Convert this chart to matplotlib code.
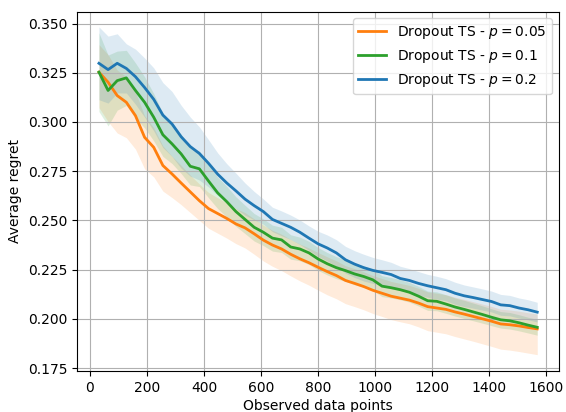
import matplotlib
matplotlib.use("Agg")
import matplotlib.pyplot as plt
import numpy as np

# observed data points (x axis)
observed = [32, 64, 96, 128, 160, 192, 224, 256, 288, 320,
            352, 384, 416, 448, 480, 512, 544, 576, 608, 640,
            672, 704, 736, 768, 800, 832, 864, 896, 928, 960,
            992, 1024, 1056, 1088, 1120, 1152, 1184, 1216, 1248, 1280,
            1312, 1344, 1376, 1408, 1440, 1472, 1504, 1536, 1568]

# mean regret, p = 0.05
regret_p005 = [0.3253, 0.3202, 0.3134, 0.3100, 0.3032, 0.2922, 0.2871, 0.2779, 0.2736, 0.2690,
               0.2645, 0.2600, 0.2560, 0.2535, 0.2510, 0.2482, 0.2462, 0.2432, 0.2400, 0.2375,
               0.2355, 0.2328, 0.2305, 0.2285, 0.2262, 0.2240, 0.2220, 0.2195, 0.2180, 0.2164,
               0.2145, 0.2130, 0.2115, 0.2105, 0.2095, 0.2080, 0.2062, 0.2055, 0.2048, 0.2035,
               0.2024, 0.2012, 0.2000, 0.1988, 0.1974, 0.1970, 0.1964, 0.1956, 0.1949]
# band below / above mean, p = 0.05
band_lo_p005 = [0.018, 0.020, 0.019, 0.018, 0.017, 0.016, 0.015, 0.013, 0.012, 0.011,
                0.0105, 0.010, 0.010, 0.010, 0.010, 0.010, 0.0102, 0.0104, 0.0106, 0.0108,
                0.0110, 0.0110, 0.0112, 0.0114, 0.0116, 0.0118, 0.0118, 0.0118, 0.0118, 0.0118,
                0.0118, 0.0118, 0.0119, 0.0120, 0.0120, 0.0121, 0.0122, 0.0123, 0.0124, 0.0125,
                0.0126, 0.0126, 0.0127, 0.0128, 0.0128, 0.0129, 0.0130, 0.0130, 0.0131]
band_hi_p005 = [0.014, 0.014, 0.013, 0.013, 0.012, 0.011, 0.010, 0.010, 0.009, 0.009,
                0.0085, 0.0085, 0.0082, 0.0080, 0.0080, 0.0078, 0.0078, 0.0076, 0.0076, 0.0075,
                0.0075, 0.0075, 0.0075, 0.0075, 0.0075, 0.0075, 0.0075, 0.0075, 0.0075, 0.0075,
                0.0075, 0.0075, 0.0075, 0.0075, 0.0075, 0.0075, 0.0075, 0.0075, 0.0075, 0.0075,
                0.0075, 0.0075, 0.0075, 0.0075, 0.0075, 0.0075, 0.0075, 0.0075, 0.0075]

# mean regret, p = 0.1
regret_p01 = [0.3253, 0.3160, 0.3210, 0.3224, 0.3160, 0.3100, 0.3024, 0.2935, 0.2889, 0.2838,
              0.2775, 0.2762, 0.2700, 0.2640, 0.2595, 0.2545, 0.2505, 0.2465, 0.2440, 0.2410,
              0.2401, 0.2365, 0.2355, 0.2335, 0.2304, 0.2280, 0.2260, 0.2245, 0.2228, 0.2215,
              0.2198, 0.2166, 0.2158, 0.2148, 0.2135, 0.2115, 0.2092, 0.2089, 0.2075, 0.2060,
              0.2048, 0.2035, 0.2022, 0.2008, 0.1995, 0.1990, 0.1980, 0.1968, 0.1957]
band_p01 = [0.020, 0.018, 0.015, 0.014, 0.014, 0.013, 0.012, 0.011, 0.010, 0.010,
            0.0095, 0.0090, 0.0085, 0.0080, 0.0078, 0.0075, 0.0072, 0.0070, 0.0068, 0.0066,
            0.0064, 0.0062, 0.0060, 0.0059, 0.0058, 0.0057, 0.0056, 0.0055, 0.0055, 0.0054,
            0.0054, 0.0053, 0.0052, 0.0051, 0.0050, 0.0050, 0.0049, 0.0048, 0.0047, 0.0046,
            0.0046, 0.0045, 0.0044, 0.0043, 0.0042, 0.0042, 0.0041, 0.0040, 0.0040]

# mean regret, p = 0.2
regret_p02 = [0.3298, 0.3266, 0.3298, 0.3272, 0.3230, 0.3175, 0.3115, 0.3035, 0.2990, 0.2925,
              0.2875, 0.2840, 0.2790, 0.2735, 0.2690, 0.2650, 0.2608, 0.2575, 0.2545, 0.2505,
              0.2485, 0.2465, 0.2440, 0.2410, 0.2381, 0.2360, 0.2335, 0.2300, 0.2278, 0.2260,
              0.2246, 0.2236, 0.2225, 0.2205, 0.2195, 0.2180, 0.2168, 0.2158, 0.2148, 0.2130,
              0.2117, 0.2108, 0.2098, 0.2088, 0.2071, 0.2067, 0.2055, 0.2046, 0.2034]
band_p02 = [0.0185, 0.0170, 0.0150, 0.0125, 0.0140, 0.0150, 0.0160, 0.0165, 0.0165, 0.0160,
            0.0150, 0.0135, 0.0120, 0.0108, 0.0098, 0.0090, 0.0082, 0.0072, 0.0064, 0.0062,
            0.0063, 0.0062, 0.0062, 0.0062, 0.0064, 0.0066, 0.0067, 0.0068, 0.0068, 0.0068,
            0.0066, 0.0064, 0.0062, 0.0062, 0.0060, 0.0060, 0.0058, 0.0058, 0.0056, 0.0056,
            0.0055, 0.0054, 0.0054, 0.0053, 0.0053, 0.0052, 0.0051, 0.0051, 0.0050]

labels = ['Dropout TS - $p = 0.05$', 'Dropout TS - $p = 0.1$', 'Dropout TS - $p = 0.2$']
colors = ['tab:orange', 'tab:green', 'tab:blue']


def main():
    x = np.array(observed)
    series = [
        (np.array(regret_p005), np.array(band_lo_p005), np.array(band_hi_p005)),
        (np.array(regret_p01), np.array(band_p01), np.array(band_p01)),
        (np.array(regret_p02), np.array(band_p02), np.array(band_p02)),
    ]

    fig, ax = plt.subplots(figsize=(5.66, 4.12), dpi=100)
    fig.subplots_adjust(left=0.136, right=0.988, top=0.972, bottom=0.0995)

    for (mean, lo, hi), label, color in zip(series, labels, colors):
        ax.plot(x, mean, color=color, linewidth=2, label=label)
        ax.fill_between(x, mean - lo, mean + hi, color=color, alpha=0.15, linewidth=0)

    ax.set_xlim(-45, 1645)
    ax.set_ylim(0.1735, 0.3561)
    ax.set_xlabel('Observed data points', labelpad=3)
    ax.set_ylabel('Average regret')
    ax.grid(True)
    ax.legend(loc='upper right')

    fig.savefig('out.png', dpi=100)


if __name__ == "__main__":
    main()
